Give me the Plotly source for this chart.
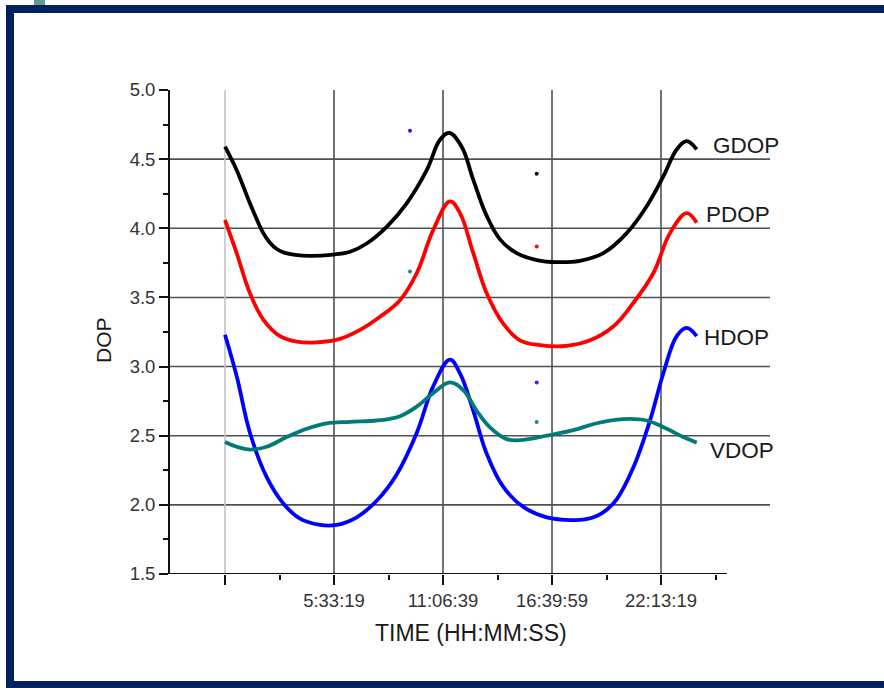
import plotly.graph_objects as go

# ---- data (time in seconds of day, DOP values) ----
gdop_t = [0, 2147, 4587, 7028, 8250, 9486, 11000, 12532, 15596, 19872, 22936, 26000, 29670, 33339, 37009, 39450, 41156,
          43431, 45560, 48018, 50459, 53523, 57193, 60862, 65138, 69413, 73708, 77378, 80425, 82883, 84716, 86551]
gdop_v = [4.59, 4.42, 4.18, 3.965, 3.895, 3.85, 3.822, 3.81, 3.80, 3.81, 3.83, 3.89, 4.01, 4.18, 4.42, 4.64, 4.69,
          4.59, 4.35, 4.09, 3.92, 3.82, 3.77, 3.755, 3.765, 3.82, 3.965, 4.16, 4.375, 4.57, 4.63, 4.57]

pdop_t = [0, 2147, 4587, 7028, 10092, 13156, 16826, 21101, 24771, 28440, 32110, 35174, 38239, 41284,
          43119, 45560, 48018, 51064, 54128, 57798, 62697, 66972, 71248, 74917, 78587, 81651, 84716, 86551]
pdop_v = [4.06, 3.82, 3.53, 3.34, 3.22, 3.18, 3.175, 3.20, 3.265, 3.36, 3.48, 3.675, 3.99, 4.195,
          4.11, 3.82, 3.53, 3.31, 3.19, 3.155, 3.15, 3.19, 3.29, 3.46, 3.675, 3.965, 4.11, 4.04]

hdop_t = [0, 2147, 4587, 7651, 10697, 13761, 17431, 20495, 24165, 27835, 31505, 35174, 38239, 41284,
          43119, 45560, 48018, 51064, 54734, 59028, 63908, 66000, 68202, 70037, 71872, 74917, 77982, 80422, 82883, 84716, 86551]
hdop_v = [3.23, 2.93, 2.52, 2.20, 2.01, 1.90, 1.855, 1.855, 1.91, 2.03, 2.22, 2.52, 2.86, 3.05,
          2.95, 2.68, 2.37, 2.13, 1.985, 1.91, 1.89, 1.895, 1.92, 1.965, 2.04, 2.27, 2.61, 2.95, 3.22, 3.28, 3.22]

vdop_t = [0, 2147, 4587, 7651, 11321, 14991, 18661, 22936, 27835, 30000, 32110, 35174, 38239, 41284, 43725,
          46183, 48624, 51688, 54734, 59028, 63908, 68202, 73083, 77378, 81046, 84092, 86551]
vdop_v = [2.455, 2.42, 2.40, 2.42, 2.49, 2.55, 2.59, 2.60, 2.61, 2.62, 2.64, 2.71, 2.81, 2.885, 2.83,
          2.68, 2.56, 2.475, 2.47, 2.50, 2.54, 2.59, 2.62, 2.61, 2.55, 2.49, 2.45]

# isolated sample dots
dot_t = [33945, 33945, 57193, 57193, 57193, 57193]
dot_v = [4.706, 3.687, 4.395, 3.868, 2.885, 2.60]
dot_c = ["#1a1aff", "#1a8a80", "#111111", "#e8141e", "#2a2aff", "#1a8a80"]

series = [("GDOP", gdop_t, gdop_v, "#000000"),
          ("PDOP", pdop_t, pdop_v, "#ff0000"),
          ("HDOP", hdop_t, hdop_v, "#0000ff"),
          ("VDOP", vdop_t, vdop_v, "#007b78")]

x_tickvals = [0, 20000, 40000, 60000, 80000]
x_ticktext = ["", "5:33:19", "11:06:39", "16:39:59", "22:13:19"]
x_minor = [10000, 30000, 50000, 70000, 90000]
y_tickvals = [1.5, 2.0, 2.5, 3.0, 3.5, 4.0, 4.5, 5.0]
y_grid = [2.0, 2.5, 3.0, 3.5, 4.0, 4.5]
y_minor = [1.75, 2.25, 2.75, 3.25, 3.75, 4.25, 4.75]

# curve name labels: (text, x in seconds, y in DOP)
labels = [("GDOP", 89100, 4.60), ("PDOP", 87800, 4.10), ("HDOP", 87600, 3.21), ("VDOP", 88700, 2.39)]

X_MIN, X_MAX = -10092, 100000
X_AXIS_END = 92100
FONT = "Liberation Sans, Arial"

fig = go.Figure()
for name, t, v, c in series:
    fig.add_trace(go.Scatter(x=t, y=v, mode="lines", name=name,
                             line=dict(color=c, width=3.8, shape="spline", smoothing=1.1)))
fig.add_trace(go.Scatter(x=dot_t, y=dot_v, mode="markers",
                         marker=dict(color=dot_c, size=4), showlegend=False))

shapes = []
navy = "#002060"
# horizontal grid
for g in y_grid:
    shapes.append(dict(type="line", xref="paper", yref="y", x0=0, x1=1, y0=g, y1=g,
                       layer="between", line=dict(color="#505050", width=1.6)))
# vertical grid
for i, xv in enumerate(x_tickvals):
    shapes.append(dict(type="line", xref="x", yref="y", x0=xv, x1=xv, y0=1.5, y1=5.0,
                       layer="between",
                       line=dict(color="#c4c4c4" if i == 0 else "#505050", width=1.6)))
# x axis line (ends short of the grid)
shapes.append(dict(type="line", xref="x", yref="y", x0=X_MIN, x1=X_AXIS_END, y0=1.5, y1=1.5,
                   layer="above", line=dict(color="#111111", width=1.8)))

annotations = []
for text, xv, yv in labels:
    annotations.append(dict(x=xv, xref="x", y=yv, yref="y", text=text, showarrow=False,
                            xanchor="left", yanchor="middle",
                            font=dict(size=22.5, color="#1a1a1a", family=FONT)))
# axis titles
annotations.append(dict(x=(471 - 170) / 600, xref="paper", y=(574 - 633) / 484, yref="paper",
                        xanchor="center", yanchor="middle",
                        text="TIME (HH:MM:SS)", showarrow=False,
                        font=dict(size=23, color="#1a1a1a", family=FONT)))
annotations.append(dict(x=(103 - 170) / 600, xref="paper", y=(574 - 340) / 484, yref="paper",
                        xanchor="center", yanchor="middle",
                        text="DOP", textangle=-90, showarrow=False,
                        font=dict(size=21, color="#1a1a1a", family=FONT)))

fig.update_layout(
    width=884, height=688,
    margin=dict(l=170, r=114, t=90, b=114),
    paper_bgcolor="white", plot_bgcolor="white",
    showlegend=False,
    shapes=shapes,
    annotations=annotations,
    font=dict(family=FONT, color="#222222"),
    xaxis=dict(range=[X_MIN, X_MAX], showgrid=False, zeroline=False, showline=False,
               tickmode="array", tickvals=x_tickvals, ticktext=x_ticktext,
               ticks="outside", ticklen=10, tickwidth=1.8, tickcolor="#111111",
               tickfont=dict(size=18.5, color="#333333"),
               minor=dict(tickvals=x_minor, ticks="outside", ticklen=5, tickwidth=1.8,
                          tickcolor="#111111", showgrid=False)),
    yaxis=dict(range=[1.5, 5.0], showgrid=False, zeroline=False, showline=True,
               linecolor="#111111", linewidth=1.8,
               tickmode="array", tickvals=y_tickvals, tickformat=".1f",
               ticks="outside", ticklen=9, tickwidth=1.8, tickcolor="#111111",
               tickfont=dict(size=18.5, color="#333333"),
               minor=dict(tickvals=y_minor, ticks="outside", ticklen=5, tickwidth=1.8,
                          tickcolor="#111111", showgrid=False)),
)

# outer navy frame: top, left, bottom bars and small teal tab
frame = [
    dict(x0=6, x1=884, y0=5, y1=13, color=navy),
    dict(x0=6, x1=14, y0=5, y1=688, color=navy),
    dict(x0=6, x1=884, y0=681, y1=688, color=navy),
    dict(x0=34, x1=45, y0=0, y1=5, color="#5f9a9a"),
]
for f in frame:
    fig.add_shape(type="rect", xref="paper", yref="paper",
                  x0=(f["x0"] - 170) / 600, x1=(f["x1"] - 170) / 600,
                  y0=(574 - f["y1"]) / 484, y1=(574 - f["y0"]) / 484,
                  line=dict(width=0), fillcolor=f["color"], layer="above")

fig.write_html("out.html")
